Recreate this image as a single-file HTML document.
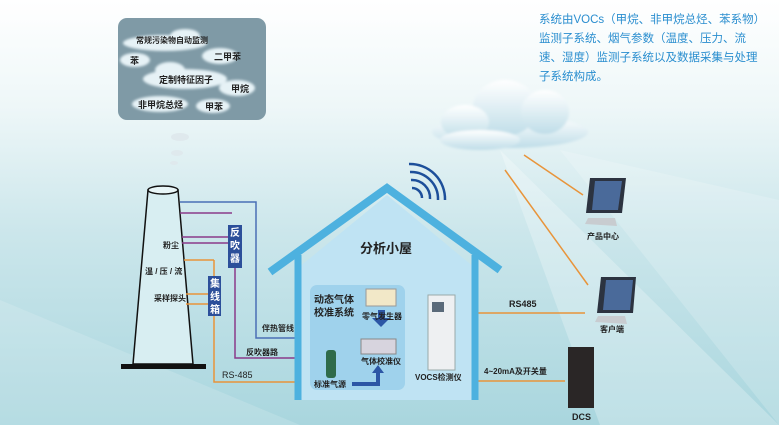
<!DOCTYPE html>
<html><head><meta charset="utf-8"><style>
body{margin:0;width:779px;height:425px;overflow:hidden;font-family:"Liberation Sans","Noto Sans CJK SC",sans-serif;}
#bg{position:absolute;left:0;top:0;width:779px;height:425px;background:linear-gradient(180deg,#ffffff 0%,#eef7f8 25%,#cbe6eb 55%,#a9d6de 100%);}
.t{position:absolute;font-size:9px;color:#222;white-space:nowrap;font-weight:bold;}
</style></head><body>
<div id="bg"></div>
<svg width="779" height="425" style="position:absolute;left:0;top:0">
<defs>
<filter id="bl"><feGaussianBlur stdDeviation="1.2"/></filter>
<linearGradient id="cg" x1="0" y1="0" x2="0" y2="1"><stop offset="0" stop-color="#ffffff"/><stop offset="1" stop-color="#bfdde8"/></linearGradient>
</defs>
<polygon points="500,150 779,425 600,425" fill="#ffffff" opacity="0.25"/>
<polygon points="560,150 779,200 779,425" fill="#ffffff" opacity="0.18"/>
<polygon points="0,300 300,425 0,425" fill="#ffffff" opacity="0.15"/>
<rect x="118" y="18" width="148" height="102" rx="9" fill="#7f9aa6"/>
<g fill="#e6f2f6" filter="url(#bl)">
<ellipse cx="165" cy="43" rx="42" ry="8"/><ellipse cx="185" cy="36" rx="15" ry="7"/>
<ellipse cx="135" cy="60" rx="15" ry="7"/>
<ellipse cx="220" cy="56" rx="18" ry="8"/>
<ellipse cx="185" cy="79" rx="42" ry="10"/><ellipse cx="170" cy="70" rx="15" ry="8"/>
<ellipse cx="237" cy="88" rx="18" ry="8"/>
<ellipse cx="160" cy="104" rx="28" ry="8"/>
<ellipse cx="213" cy="106" rx="17" ry="7"/>
</g>
<g fill="#dfe9ed"><ellipse cx="180" cy="137" rx="9" ry="4"/><ellipse cx="177" cy="153" rx="6" ry="3"/><ellipse cx="174" cy="163" rx="4" ry="2"/></g>
<g fill="url(#cg)" filter="url(#bl)">
<ellipse cx="510" cy="132" rx="78" ry="16"/><ellipse cx="505" cy="108" rx="32" ry="28"/><ellipse cx="545" cy="112" rx="24" ry="22"/>
<ellipse cx="465" cy="122" rx="24" ry="17"/><ellipse cx="480" cy="140" rx="40" ry="10"/>
</g>
<polygon points="148,190 178,190 193,364 133,364" fill="#d8eef2" stroke="#111" stroke-width="1.5"/>
<ellipse cx="163" cy="190" rx="15" ry="4" fill="#e8f5f7" stroke="#111" stroke-width="1.5"/>
<rect x="121" y="364" width="85" height="5" fill="#111"/>
<polyline points="180,202 256,202 256,338 295,338" fill="none" stroke="#4a6fb5" stroke-width="1.5"/>
<g stroke="#8a3a8a" stroke-width="1.5" fill="none">
<line x1="180" y1="213" x2="232" y2="213"/><line x1="182" y1="237" x2="232" y2="237"/><line x1="182" y1="243" x2="232" y2="243"/>
<polyline points="235,268 235,358 295,358"/></g>
<g stroke="#e8943a" stroke-width="1.5" fill="none">
<line x1="184" y1="260" x2="214" y2="260"/><line x1="214" y1="260" x2="214" y2="276"/><line x1="186" y1="294" x2="210" y2="294"/><line x1="186" y1="304" x2="210" y2="304"/>
<polyline points="214,315 214,382 295,382"/>
<line x1="475" y1="313" x2="585" y2="313"/><line x1="475" y1="381" x2="565" y2="381"/>
<line x1="524" y1="155" x2="583" y2="195"/><line x1="505" y1="170" x2="588" y2="285"/></g>
<rect x="228" y="225" width="14" height="43" fill="#2c4f9a"/>
<rect x="208" y="276" width="13" height="40" fill="#2c4f9a"/>
<polygon points="298,268 387,195 475,268 475,400 298,400" fill="#bfe3f3"/>
<polyline points="270,272 387,188 500,270" fill="none" stroke="#4db1df" stroke-width="8"/>
<line x1="298" y1="255" x2="298" y2="400" stroke="#4db1df" stroke-width="7"/>
<line x1="475" y1="255" x2="475" y2="400" stroke="#4db1df" stroke-width="7"/>
<rect x="310" y="285" width="95" height="105" rx="7" fill="#9fd2ec"/>
<g fill="none" stroke="#1d4f9a" stroke-width="2.5"><path d="M412,188 a10,10 0 0 1 10,10"/><path d="M411,180 a18,18 0 0 1 19,19"/><path d="M410,172 a27,27 0 0 1 28,28"/><path d="M409,164 a35,35 0 0 1 36,36"/></g>
<rect x="366" y="289" width="30" height="17" fill="#f2e8c8" stroke="#999"/>
<rect x="361" y="339" width="35" height="15" fill="#d7d4de" stroke="#888"/>
<rect x="326" y="350" width="10" height="28" rx="3" fill="#2f6b4a"/>
<polygon points="378,310 385,310 385,318 390,318 381,327 372,318 378,318" fill="#2c56a5"/>
<polyline points="352,384 378,384 378,372" fill="none" stroke="#2c56a5" stroke-width="4"/>
<polygon points="372,373 384,373 378,365" fill="#2c56a5"/>
<rect x="428" y="295" width="27" height="75" fill="#eef0f2" stroke="#9aa"/>
<rect x="432" y="302" width="12" height="10" fill="#5a6a7a"/>
<g><polygon points="590,178 626,178 622,213 586,213" fill="#2c3340"/><polygon points="595,181 622,181 618,210 592,210" fill="#4a6a9a"/><polygon points="588,218 615,218 617,226 585,224" fill="#c8ccd0"/></g>
<g><polygon points="601,277 636,277 633,313 597,313" fill="#2c3340"/><polygon points="606,280 633,280 630,310 603,310" fill="#4a6a9a"/><polygon points="598,316 625,316 627,324 595,322" fill="#c8ccd0"/></g>
<rect x="568" y="347" width="26" height="61" fill="#2a2626"/>
</svg>
<div class="t" style="left:136px;top:35px;font-size:8px">常规污染物自动监测</div>
<div class="t" style="left:130px;top:54px;font-size:9px">苯</div>
<div class="t" style="left:214px;top:50px;font-size:9px">二甲苯</div>
<div class="t" style="left:159px;top:73px;font-size:9px">定制特征因子</div>
<div class="t" style="left:231px;top:82px;font-size:9px">甲烷</div>
<div class="t" style="left:138px;top:98px;font-size:9px">非甲烷总烃</div>
<div class="t" style="left:205px;top:100px;font-size:9px">甲苯</div>
<div class="t" style="left:163px;top:240px;font-size:8px">粉尘</div>
<div class="t" style="left:145px;top:266px;font-size:8px">温 / 压 / 流</div>
<div class="t" style="left:154px;top:293px;font-size:8px">采样探头</div>
<div class="t" style="left:230px;top:227px;font-size:10px;color:#fff;width:10px;line-height:13px;white-space:normal">反吹器</div>
<div class="t" style="left:210px;top:278px;font-size:10px;color:#fff;width:10px;line-height:13px;white-space:normal">集线箱</div>
<div class="t" style="left:262px;top:323px;font-size:8px">伴热管线</div>
<div class="t" style="left:246px;top:347px;font-size:8px">反吹器路</div>
<div class="t" style="left:222px;top:370px;font-size:9px;font-weight:normal">RS-485</div>
<div class="t" style="left:360px;top:238px;font-size:13px">分析小屋</div>
<div class="t" style="left:314px;top:294px;font-size:10px;line-height:13px">动态气体<br>校准系统</div>
<div class="t" style="left:362px;top:311px;font-size:8px">零气发生器</div>
<div class="t" style="left:361px;top:356px;font-size:8px">气体校准仪</div>
<div class="t" style="left:314px;top:379px;font-size:8px">标准气源</div>
<div class="t" style="left:415px;top:372px;font-size:8px">VOCS检测仪</div>
<div class="t" style="left:509px;top:299px;font-size:9px">RS485</div>
<div class="t" style="left:484px;top:366px;font-size:8px">4~20mA及开关量</div>
<div class="t" style="left:587px;top:231px;font-size:8px">产品中心</div>
<div class="t" style="left:600px;top:324px;font-size:8px">客户端</div>
<div class="t" style="left:572px;top:412px;font-size:9px">DCS</div>
<div style="position:absolute;left:539px;top:11px;width:240px;font-size:11.5px;line-height:19px;color:#2a8ecf;white-space:nowrap">系统由VOCs（甲烷、非甲烷总烃、苯系物）<br>监测子系统、烟气参数（温度、压力、流<br>速、湿度）监测子系统以及数据采集与处理<br>子系统构成。</div>
</body></html>
